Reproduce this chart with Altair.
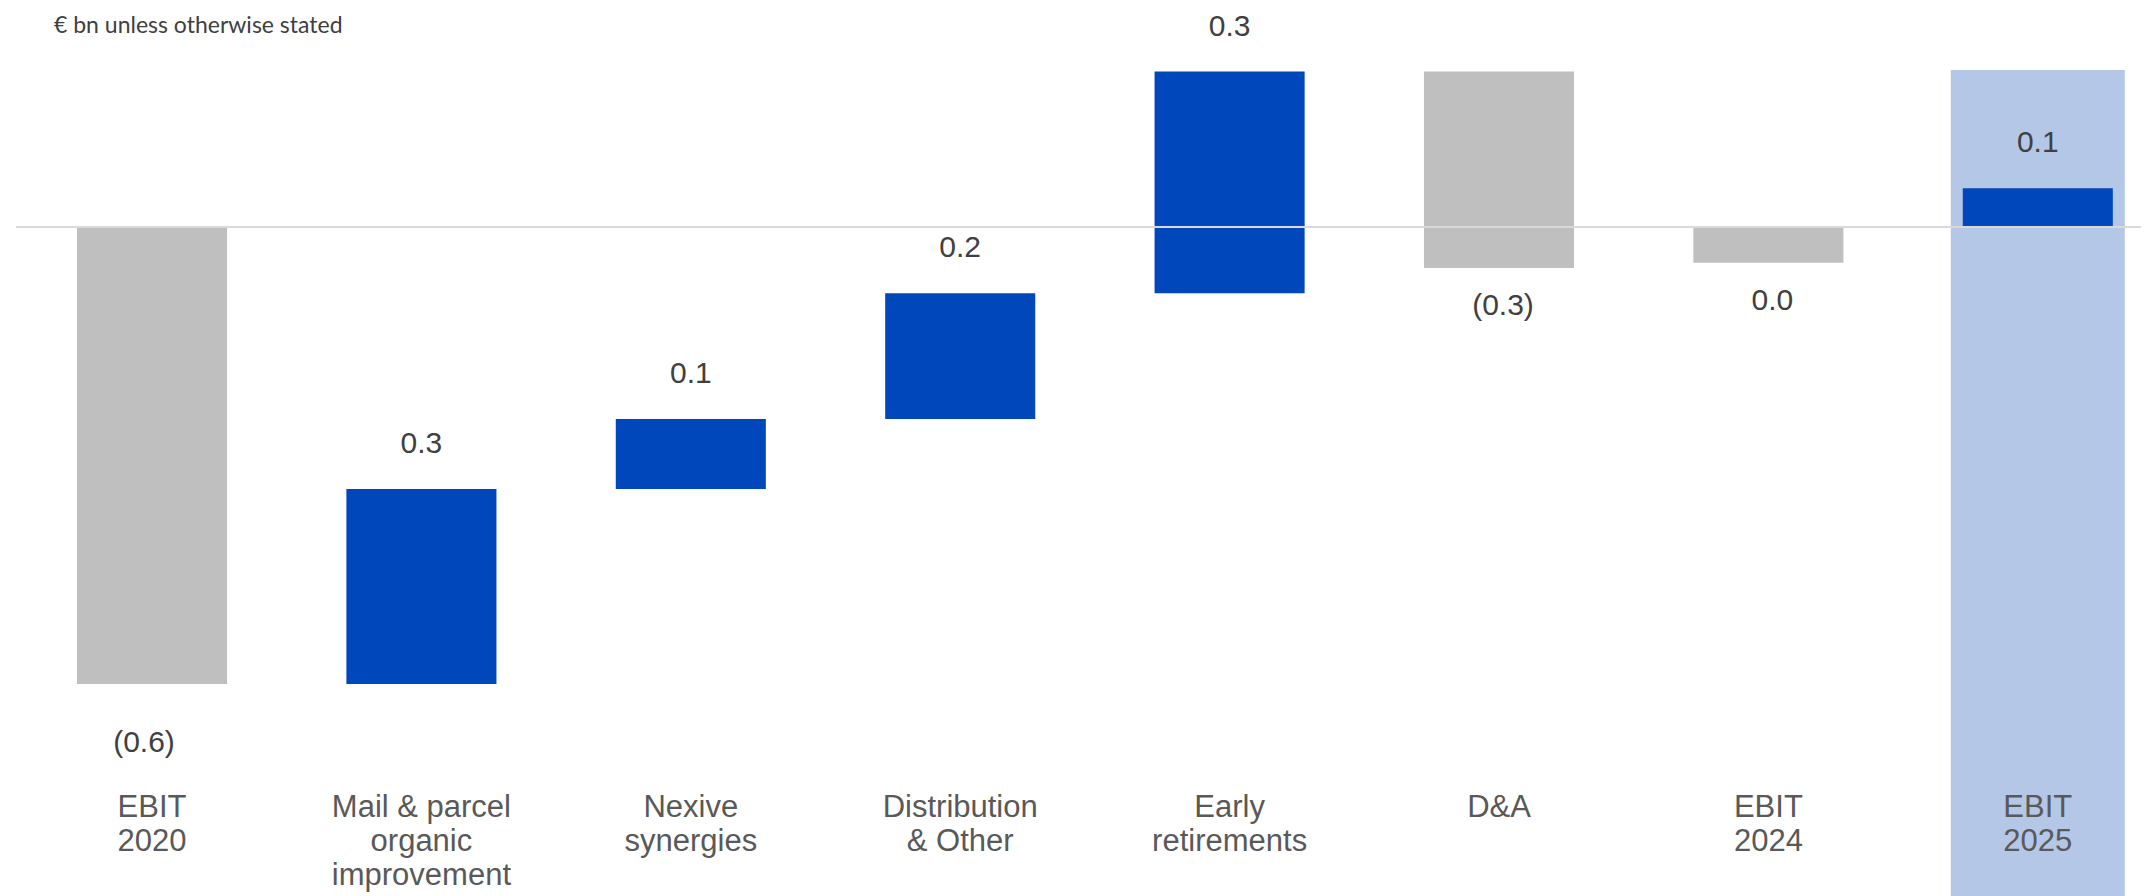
import altair as alt
import pandas as pd

# ---- data ----
categories = [
    "EBIT\n2020",
    "Mail & parcel\norganic\nimprovement",
    "Nexive\nsynergies",
    "Distribution\n& Other",
    "Early\nretirements",
    "D&A",
    "EBIT\n2024",
    "EBIT\n2025",
]
bar_start = [0.0, -0.600, -0.344, -0.252, -0.087, 0.204, 0.0, 0.0]
bar_end = [-0.600, -0.344, -0.252, -0.087, 0.204, -0.054, -0.047, 0.051]
value_labels = ["(0.6)", "0.3", "0.1", "0.2", "0.3", "(0.3)", "0.0", "0.1"]
bar_group = ["total", "increase", "increase", "increase", "increase", "decrease", "total", "target"]

highlight_category = ["EBIT\n2025"]
highlight_top = [0.206]
highlight_bottom = [-0.95]

baseline_value = [0.0]

subtitle = "€ bn unless otherwise stated"

df = pd.DataFrame({
    "category": categories,
    "start": bar_start,
    "end": bar_end,
    "label": value_labels,
    "group": bar_group,
    "order": list(range(len(categories))),
})
hl = pd.DataFrame({"category": highlight_category, "top": highlight_top, "bottom": highlight_bottom})
zero_df = pd.DataFrame({"v": baseline_value})

FONT = "Liberation Sans"

x_enc = alt.X(
    "category:N",
    sort=categories,
    scale=alt.Scale(paddingInner=0.443, paddingOuter=0.1655, align=0.684),
    axis=alt.Axis(
        title=None, domain=False, ticks=False, tickSize=0, labelAngle=0,
        labelFont=FONT, labelFontSize=31, labelColor="#595959",
        labelLineHeight=34, labelBaseline="alphabetic", labelPadding=48,
        labelLimit=0, labelOverlap=False, zindex=1,
        labelExpr="split(datum.label, '\\n')",
    ),
)
y_scale = alt.Scale(domain=[-0.7103, 0.2875], nice=False, zero=False)

highlight = alt.Chart(hl).mark_bar(size=174, color="#B4C7E7").encode(
    x=x_enc,
    y=alt.Y("top:Q", scale=y_scale, axis=None),
    y2="bottom:Q",
)

bars = alt.Chart(df).mark_bar().encode(
    x=x_enc,
    y=alt.Y("start:Q", scale=y_scale, axis=None),
    y2="end:Q",
    color=alt.Color(
        "group:N",
        scale=alt.Scale(domain=["total", "increase", "decrease", "target"],
                        range=["#BFBFBF", "#0047BB", "#BFBFBF", "#0047BB"]),
        legend=None,
    ),
)

zero = alt.Chart(zero_df).mark_rule(color="#D9D9D9", strokeWidth=2).encode(
    y=alt.Y("v:Q", scale=y_scale, axis=None)
)

def label_layer(cond, dy, dx=0):
    return alt.Chart(df).mark_text(
        dy=dy, dx=dx, baseline="middle", align="center", fontSize=30, font=FONT, color="#404040"
    ).encode(
        x=x_enc,
        y=alt.Y("end:Q", scale=y_scale, axis=None),
        text="label:N",
    ).transform_filter(cond)

above = label_layer("datum.end > datum.start", -45)
below = label_layer("datum.end < datum.start && datum.order > 0", 38, 4)
first = label_layer("datum.order == 0", 59, -8)

chart = alt.layer(highlight, bars, zero, above, below, first).properties(
    width=2125,
    height=760,
    autosize=alt.AutoSizeParams(type="none"),
    padding={"left": 8, "top": 0, "right": 0, "bottom": 128},
    title=alt.TitleParams(
        subtitle, anchor="start", frame="group", orient="top", offset=-48, dx=38,
        fontSize=23, font="Lato", color="#404040", fontWeight="normal", baseline="alphabetic",
    ),
).configure(background="white").configure_view(stroke="transparent", strokeWidth=0)

chart.save("out.html", embed_options={"renderer": "svg", "actions": False})
